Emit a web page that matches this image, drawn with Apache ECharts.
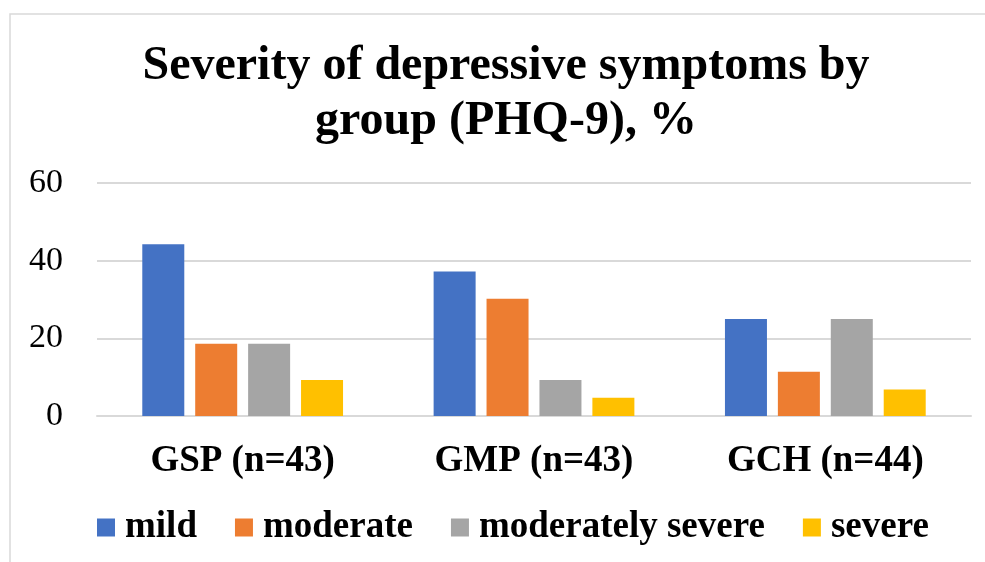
<!DOCTYPE html>
<html>
<head>
<meta charset="utf-8">
<script src="https://cdn.jsdelivr.net/npm/echarts@6/dist/echarts.min.js"></script>
<style>
html,body{margin:0;padding:0;background:#fff;}
#chart{width:985px;height:562px;}
</style>
</head>
<body>
<div id="chart"></div>
<script>
const titleText = 'Severity of depressive symptoms by\ngroup (PHQ-9), %';
const categories = ['GSP (n=43)', 'GMP (n=43)', 'GCH (n=44)'];
const seriesNames = ['mild', 'moderate', 'moderately severe', 'severe'];
const mild = [44.2, 37.2, 25.0];
const moderate = [18.6, 30.2, 11.4];
const moderatelySevere = [18.6, 9.3, 25.0];
const severe = [9.3, 4.7, 6.8];
const yTicks = [0, 20, 40, 60];
const colors = ['#4472C4', '#ED7D31', '#A5A5A5', '#FFC000'];

const serif = '"Liberation Serif", "Times New Roman", serif';
const values = [mild, moderate, moderatelySevere, severe];

const chart = echarts.init(document.getElementById('chart'), null, {renderer: 'canvas'});
chart.setOption({
  animation: false,
  backgroundColor: '#fff',
  color: colors,
  graphic: [{
    type: 'rect',
    shape: {x: 10, y: 14, width: 1000, height: 600},
    style: {fill: 'none', stroke: '#d9d9d9', lineWidth: 1.5},
    silent: true
  }, {
    type: 'text',
    x: 506,
    y: 39,
    silent: true,
    style: {
      text: titleText,
      textAlign: 'center',
      textVerticalAlign: 'top',
      fontFamily: serif,
      fontWeight: 'bold',
      fontSize: 48,
      lineHeight: 55,
      fill: '#000'
    }
  }],
  legend: {
    data: seriesNames,
    left: 97,
    top: 509,
    padding: 0,
    itemWidth: 18,
    itemHeight: 18,
    itemGap: 38,
    icon: 'rect',
    textStyle: {fontFamily: serif, fontWeight: 'bold', fontSize: 37, lineHeight: 37, color: '#000', padding: [0, 0, 0, 5]}
  },
  grid: {left: 97, right: 14, top: 183, bottom: 146, containLabel: false},
  xAxis: {
    type: 'category',
    data: categories,
    axisLine: {show: true, lineStyle: {color: '#d9d9d9', width: 2}},
    axisTick: {show: false},
    axisLabel: {margin: 27, fontFamily: serif, fontWeight: 'bold', fontSize: 37, lineHeight: 37, color: '#000'}
  },
  yAxis: {
    type: 'value',
    min: yTicks[0],
    max: yTicks[yTicks.length - 1],
    interval: 20,
    axisLine: {show: false},
    axisTick: {show: false},
    splitLine: {lineStyle: {color: '#d9d9d9', width: 2}},
    axisLabel: {margin: 34, fontFamily: serif, fontSize: 34, color: '#000'}
  },
  series: seriesNames.map((name, i) => ({
    name: name,
    type: 'bar',
    data: values[i],
    barWidth: 42,
    barGap: '26%',
    itemStyle: {color: colors[i]}
  }))
});
</script>
</body>
</html>
